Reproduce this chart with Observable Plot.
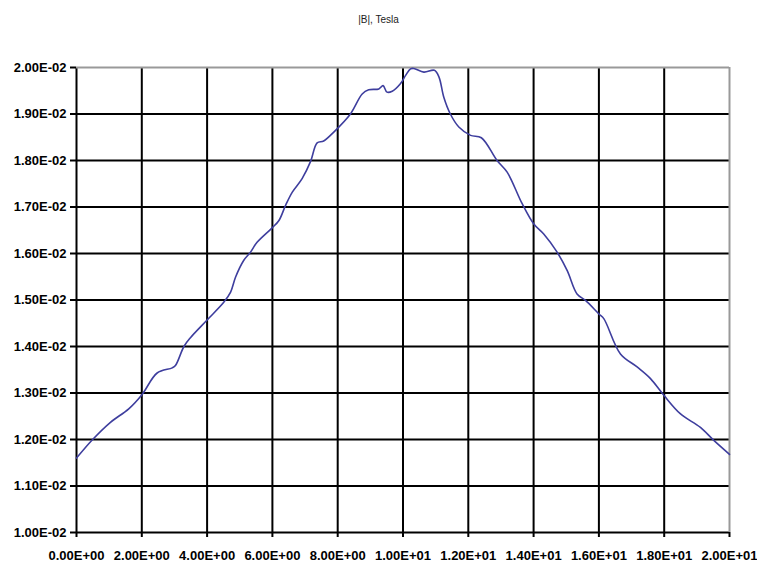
<!DOCTYPE html>
<html>
<head>
<meta charset="utf-8">
<script src="https://cdn.jsdelivr.net/npm/d3@7"></script>
<script src="https://cdn.jsdelivr.net/npm/@observablehq/plot@0.6"></script>
<style>
  body { margin: 0; background: #fff; }
  #wrap { position: relative; width: 757px; height: 563px; }
  #title { position: absolute; top: 14px; left: 0; width: 757px; text-align: center;
           font-family: "Liberation Sans", Arial, sans-serif; font-size: 10px; color: #222; }
</style>
</head>
<body>
<div id="wrap"><div id="title">|B|, Tesla</div></div>
<script>
const xPos = [0, 0.48, 1.04, 1.6, 2.01, 2.47, 2.93, 3.03, 3.29, 3.49, 4.0, 4.51, 4.72, 4.87, 5.12, 5.33, 5.53, 5.99, 6.2, 6.4, 6.61, 6.91, 7.17, 7.37, 7.57, 7.88, 8.39, 8.75, 8.95, 9.26, 9.39, 9.51, 9.67, 9.92, 10.08, 10.23, 10.33, 10.64, 10.96, 11.1, 11.25, 11.45, 11.71, 12.07, 12.4, 12.88, 13.19, 13.65, 14.0, 14.31, 14.72, 15.03, 15.33, 15.59, 16.0, 16.15, 16.66, 17.17, 17.58, 17.99, 18.5, 19.11, 19.52, 20.0];
const bField = [0.01160, 0.01199, 0.01237, 0.01266, 0.01297, 0.01343, 0.01354, 0.01359, 0.01400, 0.01419, 0.01457, 0.01495, 0.01517, 0.01549, 0.01585, 0.01603, 0.01624, 0.01655, 0.01671, 0.01703, 0.01732, 0.01761, 0.01798, 0.01838, 0.01842, 0.01861, 0.01900, 0.01943, 0.01952, 0.01954, 0.01961, 0.01947, 0.01949, 0.01965, 0.01983, 0.01997, 0.01998, 0.01990, 0.01994, 0.01980, 0.01936, 0.01900, 0.01872, 0.01854, 0.01849, 0.01800, 0.01775, 0.01707, 0.01664, 0.01642, 0.01603, 0.01563, 0.01513, 0.01499, 0.01470, 0.01460, 0.01384, 0.01356, 0.01331, 0.01295, 0.01255, 0.01226, 0.01198, 0.01168];
const xTicks = [0, 2, 4, 6, 8, 10, 12, 14, 16, 18, 20];
const yTicks = [0.010, 0.011, 0.012, 0.013, 0.014, 0.015, 0.016, 0.017, 0.018, 0.019, 0.020];

const data = xPos.map((x, i) => ({x, b: bField[i]}));

function sci(v) {
  const [m, e] = v.toExponential(2).split("e");
  const n = +e;
  return m + "E" + (n < 0 ? "-" : "+") + String(Math.abs(n)).padStart(2, "0");
}

const chart = Plot.plot({
  width: 757,
  height: 563,
  marginLeft: 76,
  marginRight: 28,
  marginTop: 67,
  marginBottom: 31,
  style: {fontFamily: "'Liberation Sans', Arial, sans-serif", background: "transparent"},
  x: {domain: [0, 20]},
  y: {domain: [0.01, 0.02]},
  marks: [
    Plot.gridX(xTicks.filter(d => d < 20), {stroke: "black", strokeOpacity: 1, strokeWidth: 2}),
    Plot.gridY(yTicks.filter(d => d < 0.0199), {stroke: "black", strokeOpacity: 1, strokeWidth: 2}),
    Plot.ruleX([20], {stroke: "#999", strokeWidth: 2}),
    Plot.ruleY([0.02], {stroke: "#999", strokeWidth: 2}),
    Plot.axisX(xTicks, {tickFormat: sci, tickSize: 5, tickPadding: 13, fontSize: 13, fontWeight: "bold", stroke: "black", strokeWidth: 2, label: null}),
    Plot.axisY(yTicks, {tickFormat: sci, tickSize: 6, tickPadding: 4, fontSize: 13, fontWeight: "bold", stroke: "black", strokeWidth: 2, label: null}),
    Plot.line(data, {x: "x", y: "b", stroke: "#3e3e9e", strokeWidth: 1.6, curve: "catmull-rom"})
  ]
});
document.getElementById("wrap").prepend(chart);
chart.style.position = "absolute";
chart.style.left = "0";
chart.style.top = "0";
</script>
</body>
</html>
